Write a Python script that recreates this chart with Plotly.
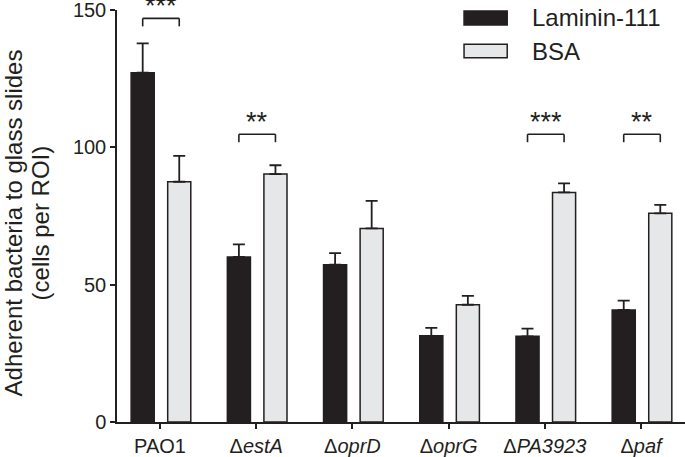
import plotly.graph_objects as go

categories = ["PAO1", "Δ<i>estA</i>", "Δ<i>oprD</i>", "Δ<i>oprG</i>", "Δ<i>PA3923</i>", "Δ<i>paf</i>"]
laminin = [127.2, 60.1, 57.3, 31.4, 31.2, 40.8]
laminin_err = [10.7, 4.6, 4.2, 2.9, 2.8, 3.4]
bsa = [87.5, 90.3, 70.5, 42.7, 83.6, 76.0]
bsa_err = [9.4, 3.2, 10.0, 3.2, 3.3, 3.1]
series_names = ["Laminin-111", "BSA"]
# significance: (category index, stars, bracket top value)
sig_idx = [0, 1, 4, 5]
sig_stars = ["***", "**", "***", "**"]
sig_top = [147.0, 104.8, 104.8, 104.8]
yticks = [0, 50, 100, 150]
ytitle_lines = ["Adherent bacteria to glass slides", "(cells per ROI)"]

INK = "#231f20"
GRAY = "#e6e7e8"
FONT = "Liberation Sans, Arial, sans-serif"

fig = go.Figure()
fig.add_trace(go.Bar(
    x=categories, y=laminin, name=series_names[0],
    width=0.24, offset=-0.30,
    marker=dict(color=INK, line=dict(color=INK, width=1.5)),
    error_y=dict(type="data", array=laminin_err, arrayminus=[0]*6, symmetric=False,
                 color=INK, thickness=1.8, width=6),
    showlegend=False,
))
fig.add_trace(go.Bar(
    x=categories, y=bsa, name=series_names[1],
    width=0.24, offset=0.08,
    marker=dict(color=GRAY, line=dict(color=INK, width=1.5)),
    error_y=dict(type="data", array=bsa_err, arrayminus=[0]*6, symmetric=False,
                 color=INK, thickness=1.8, width=6),
    showlegend=False,
))

# significance brackets
shapes = []
annotations = []
for i, s, top in zip(sig_idx, sig_stars, sig_top):
    x0 = i - 0.18
    x1 = i + 0.20
    leg = 2.9
    for (a, b, c, d) in [(x0, top, x1, top), (x0, top, x0, top - leg), (x1, top, x1, top - leg)]:
        shapes.append(dict(type="line", xref="x", yref="y", x0=a, y0=b, x1=c, y1=d,
                           line=dict(color=INK, width=1.6)))
    annotations.append(dict(x=i + 0.01, y=top, xref="x", yref="y", text=s, showarrow=False,
                            xanchor="center", yanchor="bottom", yshift=-5,
                            font=dict(family=FONT, size=27, color=INK)))

# manual legend
leg_colors = [INK, GRAY]
leg_y = [(0.9976, 0.9636), (0.917, 0.8843)]
leg_text_y = [0.982, 0.899]
for name, col, (ya, yb), ty in zip(series_names, leg_colors, leg_y, leg_text_y):
    shapes.append(dict(type="rect", xref="paper", yref="paper", x0=0.611, x1=0.687, y0=yb, y1=ya,
                       fillcolor=col, line=dict(color=INK, width=1.5)))
    annotations.append(dict(x=0.727, y=ty, xref="paper", yref="paper", text=name, showarrow=False,
                            xanchor="left", yanchor="middle",
                            font=dict(family=FONT, size=24, color=INK)))

# y axis title (two lines)
for txt, xs in zip(ytitle_lines, [-117 + 13, -117 + 40]):
    annotations.append(dict(x=0, y=0.482, xref="paper", yref="paper", xshift=xs,
                            text=txt, textangle=-90, showarrow=False,
                            xanchor="center", yanchor="middle",
                            font=dict(family=FONT, size=24, color=INK)))

fig.update_layout(
    width=685, height=457,
    margin=dict(l=117, r=0, t=10, b=35),
    paper_bgcolor="white", plot_bgcolor="white",
    barmode="overlay",
    shapes=shapes, annotations=annotations,
    font=dict(family=FONT, size=20, color=INK),
)
fig.update_xaxes(
    range=[-0.447, 5.457], showgrid=False, zeroline=False,
    showline=True, linecolor=INK, linewidth=1.5,
    ticks="outside", ticklen=5, tickwidth=1.5, tickcolor=INK,
    tickfont=dict(family=FONT, size=20, color=INK),
    ticklabeloverflow="allow",
)
fig.update_yaxes(
    range=[0, 150.05], tickvals=yticks, showgrid=False, zeroline=False,
    showline=True, linecolor=INK, linewidth=1.5,
    ticks="outside", ticklen=5, tickwidth=1.5, tickcolor=INK,
    tickfont=dict(family=FONT, size=20, color=INK),
    ticklabeloverflow="allow",
)
fig.write_html("out.html", config={"displayModeBar": False},
               post_script="document.body.style.margin='0';document.body.style.overflow='hidden';")
